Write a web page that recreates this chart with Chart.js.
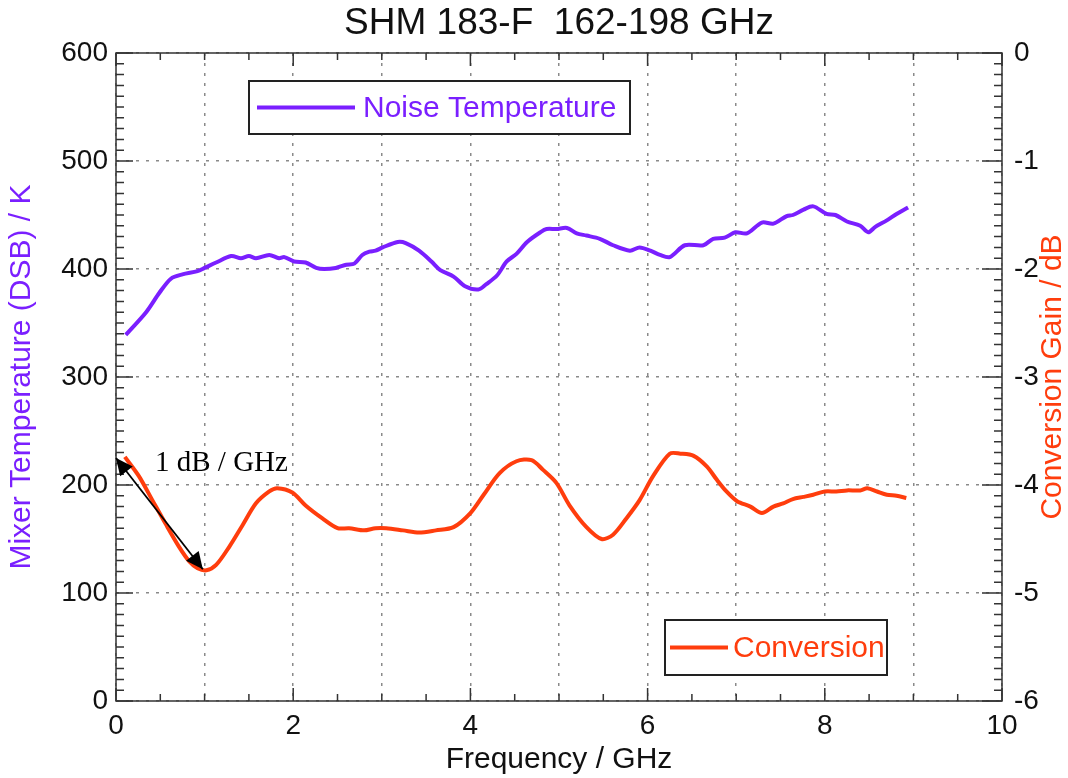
<!DOCTYPE html>
<html>
<head>
<meta charset="utf-8">
<script src="https://cdn.jsdelivr.net/npm/chart.js@4.4.1/dist/chart.umd.min.js"></script>
<style>
html, body { margin: 0; padding: 0; background: #fff; }
</style>
</head>
<body>
<canvas id="myChart" width="1068" height="778"></canvas>
<script>
// Noise temperature (left axis, K)
var noiseFreq = [0.11, 0.34, 0.49, 0.62, 0.75, 0.92, 1.00, 1.13, 1.30, 1.41, 1.50, 1.58, 1.73, 1.84, 1.90,
    2.01, 2.14, 2.26, 2.35, 2.48, 2.60, 2.69, 2.78, 2.86, 2.93, 3.01, 3.18, 3.27, 3.42, 3.56, 3.66, 3.81,
    3.94, 4.09, 4.18, 4.30, 4.41, 4.52, 4.64, 4.79, 4.86, 4.97, 5.09, 5.20, 5.31, 5.46, 5.61, 5.80, 5.91,
    6.03, 6.14, 6.25, 6.42, 6.63, 6.74, 6.87, 6.99, 7.12, 7.29, 7.42, 7.57, 7.64, 7.76, 7.87, 8.02, 8.12,
    8.25, 8.40, 8.49, 8.57, 8.70, 8.81, 8.94];
var noiseTemp = [339, 360, 378, 391, 395, 398, 401, 406, 412, 410, 412, 410, 413, 410, 411,
    407, 406, 401, 400, 401, 404, 405, 413, 416, 417, 420, 425, 424, 417, 407, 399, 393,
    384, 381, 386, 394, 407, 414, 425, 434, 437, 437, 438, 433, 431, 428, 422, 417, 420,
    417, 413, 411, 422, 422, 428, 429, 434, 433, 443, 442, 449, 450, 455, 458, 451, 450,
    444, 440, 434, 439, 445, 451, 457];

// Conversion gain (right axis, dB)
var convFreq = [0.10, 0.26, 0.41, 0.56, 0.71, 0.83, 0.92, 1.02, 1.13, 1.28, 1.43, 1.58, 1.73, 1.82, 1.99,
    2.14, 2.33, 2.50, 2.63, 2.80, 2.93, 3.05, 3.24, 3.42, 3.61, 3.81, 4.00, 4.15, 4.33, 4.52, 4.69, 4.82,
    4.97, 5.12, 5.31, 5.48, 5.61, 5.76, 5.91, 6.06, 6.25, 6.37, 6.52, 6.67, 6.78, 6.89, 7.01, 7.16, 7.29,
    7.42, 7.53, 7.64, 7.76, 7.87, 8.00, 8.13, 8.25, 8.40, 8.48, 8.59, 8.70, 8.81, 8.92];
var convGain = [-3.74, -3.92, -4.14, -4.36, -4.57, -4.71, -4.77, -4.79, -4.74, -4.57, -4.37, -4.17, -4.06, -4.03, -4.07,
    -4.19, -4.31, -4.40, -4.40, -4.42, -4.40, -4.40, -4.42, -4.44, -4.42, -4.39, -4.26, -4.09, -3.89, -3.78, -3.77, -3.86,
    -3.98, -4.19, -4.39, -4.50, -4.46, -4.31, -4.14, -3.92, -3.71, -3.71, -3.73, -3.83, -3.95, -4.06, -4.15, -4.20, -4.26,
    -4.20, -4.17, -4.13, -4.11, -4.09, -4.06, -4.06, -4.05, -4.05, -4.03, -4.06, -4.09, -4.10, -4.12];

// slope annotation (GHz, dB)
var arrowFreq = [0, 0.98];
var arrowGain = [-3.75, -4.78];
var arrowLabel = '1 dB / GHz';
var arrowLabelAt = [0.44, -3.87];

var purple = '#7a1fff';
var orange = '#ff3d0d';
var ink = '#111';
var font = '"Liberation Sans", Arial, Helvetica, sans-serif';

function toPoints(xs, ys) {
    return xs.map(function (x, i) { return { x: x, y: ys[i] }; });
}

function arrowHead(c, x1, y1, x2, y2) {
    var a = Math.atan2(y2 - y1, x2 - x1);
    var len = 17, w = 8;
    c.beginPath();
    c.moveTo(x2, y2);
    c.lineTo(x2 - len * Math.cos(a) + w * Math.sin(a), y2 - len * Math.sin(a) - w * Math.cos(a));
    c.lineTo(x2 - len * Math.cos(a) - w * Math.sin(a), y2 - len * Math.sin(a) + w * Math.cos(a));
    c.closePath();
    c.fill();
}

// box, sample line (inset + length), then label
function legendBox(c, x, y, w, h, color, text, inset, lineLen, gap) {
    c.save();
    c.fillStyle = '#fff';
    c.fillRect(x, y, w, h);
    c.strokeStyle = '#222';
    c.lineWidth = 2;
    c.strokeRect(x, y, w, h);
    c.strokeStyle = color;
    c.lineWidth = 4;
    c.beginPath();
    c.moveTo(x + inset, y + h / 2);
    c.lineTo(x + inset + lineLen, y + h / 2);
    c.stroke();
    c.fillStyle = color;
    c.font = '30px ' + font;
    c.textBaseline = 'middle';
    c.fillText(text, x + inset + lineLen + gap, y + h / 2 + 1);
    c.restore();
}

var framePlugin = {
    id: 'framePlugin',
    beforeDatasetsDraw: function (chart) {
        var c = chart.ctx, a = chart.chartArea;
        var xs = chart.scales.x, yl = chart.scales.y, yr = chart.scales.y2;
        c.save();
        c.strokeStyle = '#333';
        c.lineWidth = 1.5;
        c.strokeRect(a.left, a.top, a.right - a.left, a.bottom - a.top);
        c.beginPath();
        // left axis minor ticks every 10 K
        for (var v = 0; v <= 600; v += 10) {
            var py = yl.getPixelForValue(v);
            var l = v % 100 === 0 ? 17 : 8;
            c.moveTo(a.left, py); c.lineTo(a.left + l, py);
        }
        // right axis minor ticks every 0.1 dB
        for (var k = -60; k <= 0; k++) {
            var pr = yr.getPixelForValue(k / 10);
            var lr = k % 10 === 0 ? 20 : 8;
            c.moveTo(a.right, pr); c.lineTo(a.right - lr, pr);
        }
        // x ticks every 0.5 GHz, top and bottom
        for (var j = 0; j <= 20; j++) {
            var px = xs.getPixelForValue(j / 2);
            var lx = j % 4 === 0 ? 13 : 7;
            c.moveTo(px, a.bottom); c.lineTo(px, a.bottom - lx);
            c.moveTo(px, a.top); c.lineTo(px, a.top + lx);
        }
        c.stroke();
        c.restore();
    },
    afterDatasetsDraw: function (chart) {
        var c = chart.ctx, a = chart.chartArea;
        var xs = chart.scales.x, yr = chart.scales.y2;

        legendBox(c, a.left + 133, a.top + 28, 381, 53, purple, 'Noise Temperature', 8, 98, 8);
        legendBox(c, a.left + 549, a.top + 567, 222, 55, orange, 'Conversion', 5, 58, 5);

        // slope arrow
        var x1 = xs.getPixelForValue(arrowFreq[0]), y1 = yr.getPixelForValue(arrowGain[0]);
        var x2 = xs.getPixelForValue(arrowFreq[1]), y2 = yr.getPixelForValue(arrowGain[1]);
        c.save();
        c.strokeStyle = '#000';
        c.fillStyle = '#000';
        c.lineWidth = 1.8;
        c.beginPath();
        c.moveTo(x1, y1); c.lineTo(x2, y2);
        c.stroke();
        arrowHead(c, x1, y1, x2, y2);
        arrowHead(c, x2, y2, x1, y1);
        c.font = '29px "Liberation Serif", "Times New Roman", serif';
        c.textBaseline = 'alphabetic';
        c.fillText(arrowLabel, xs.getPixelForValue(arrowLabelAt[0]), yr.getPixelForValue(arrowLabelAt[1]));
        c.restore();

        // right axis title reads bottom to top
        c.save();
        c.translate(1053, (a.top + a.bottom) / 2);
        c.rotate(-Math.PI / 2);
        c.fillStyle = orange;
        c.font = '30px ' + font;
        c.textAlign = 'center';
        c.textBaseline = 'middle';
        c.fillText('Conversion Gain / dB', 0, 0);
        c.restore();
    }
};

var gridOpts = { color: '#8a8a8a', lineWidth: 1.5, drawTicks: false };
var borderOpts = { display: false, dash: [3, 7] };

var ctx = document.getElementById('myChart');
var myChart = new Chart(ctx, {
    type: 'line',
    data: {
        datasets: [{
            label: 'Noise Temperature',
            data: toPoints(noiseFreq, noiseTemp),
            borderColor: purple,
            borderWidth: 4,
            pointRadius: 0,
            tension: 0.3,
            yAxisID: 'y'
        }, {
            label: 'Conversion',
            data: toPoints(convFreq, convGain),
            borderColor: orange,
            borderWidth: 4,
            pointRadius: 0,
            tension: 0.3,
            yAxisID: 'y2'
        }]
    },
    options: {
        responsive: false,
        animation: false,
        devicePixelRatio: 1,
        layout: { padding: 0 },
        plugins: {
            legend: { display: false },
            tooltip: { enabled: false },
            title: {
                display: true,
                fullSize: false,
                text: 'SHM 183-F  162-198 GHz',
                color: ink,
                font: { family: font, size: 37, weight: 'normal', lineHeight: 1 },
                padding: { top: 5, bottom: 11 }
            }
        },
        scales: {
            x: {
                type: 'linear',
                min: 0, max: 10,
                grid: gridOpts,
                border: borderOpts,
                ticks: {
                    stepSize: 1, autoSkip: false, maxRotation: 0, padding: 8,
                    color: ink, font: { family: font, size: 28 },
                    callback: function (v) { return v % 2 === 0 ? String(v) : ''; }
                },
                title: {
                    display: true, text: 'Frequency / GHz', color: ink,
                    font: { family: font, size: 30 }, padding: { top: 0, bottom: 0 }
                },
                afterFit: function (s) { s.height = 77; }
            },
            y: {
                position: 'left',
                min: 0, max: 600,
                grid: gridOpts,
                border: borderOpts,
                ticks: { stepSize: 100, padding: 8, color: ink, font: { family: font, size: 28 } },
                title: {
                    display: true, text: 'Mixer Temperature (DSB) / K', color: purple,
                    font: { family: font, size: 30 }, padding: { top: 4, bottom: 0 }
                },
                afterFit: function (s) { s.width = 116; }
            },
            y2: {
                position: 'right',
                min: -6, max: 0,
                grid: { display: false, drawTicks: false },
                border: { display: false },
                ticks: { stepSize: 1, padding: 12, color: ink, font: { family: font, size: 28 } },
                afterFit: function (s) { s.width = 66; }
            }
        }
    },
    plugins: [framePlugin]
});
</script>
</body>
</html>
